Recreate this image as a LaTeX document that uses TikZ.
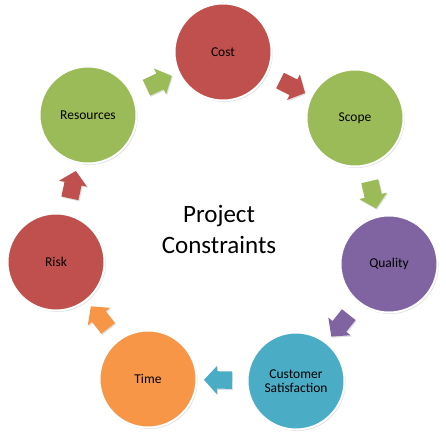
\documentclass[tikz,border=0pt]{standalone}
\usepackage{fontspec}
\setmainfont{Carlito}
\usetikzlibrary{shapes.arrows,shadows}
\definecolor{cred}{HTML}{C0504D}
\definecolor{cgreen}{HTML}{9BBB59}
\definecolor{cpurple}{HTML}{8064A2}
\definecolor{cteal}{HTML}{4BACC6}
\definecolor{corange}{HTML}{F79646}
\tikzset{
  ball/.style={circle, minimum size=97pt, inner sep=0pt, draw=white, line width=2pt,
    fill=#1, align=center, font=\fontsize{13.5}{14}\selectfont,
    drop shadow={shadow xshift=1.2pt, shadow yshift=-1.5pt, opacity=0.25}},
  blockarr/.style={single arrow, sloped, allow upside down, fill=#1, draw=none, inner xsep=0pt, inner ysep=8.5pt,
    single arrow head extend=5.5pt, single arrow tip angle=95, minimum height=28pt,
    drop shadow={shadow xshift=1pt, shadow yshift=-1.2pt, opacity=0.25}}
}
\begin{document}
\begin{tikzpicture}[x=1pt,y=-1pt]
\useasboundingbox (0,0) rectangle (446,435);
\node[ball=cred]    (cost) at (223,52)  {Cost};
\node[ball=cgreen]  (scope) at (355,118) {Scope};
\node[ball=cpurple] (qual) at (389,264) {Quality};
\node[ball=cteal]   (cs) at (296,381) {Customer\\Satisfaction};
\node[ball=corange] (time) at (148,379) {Time};
\node[ball=cred]    (risk) at (56,262) {Risk};
\node[ball=cgreen]  (res) at (88,115) {Resources};
\node[align=center, font=\fontsize{25}{31}\selectfont] (title) at (219,229) {Project\\Constraints};
\path (res) -- node[blockarr=cgreen] (a1) {} (cost);
\path (cost) -- node[blockarr=cred] (a2) {} (scope);
\path (scope) -- node[blockarr=cgreen] (a3) {} (qual);
\path (qual) -- node[blockarr=cpurple] (a4) {} (cs);
\path (cs) -- node[blockarr=cteal] (a5) {} (time);
\path (time) -- node[blockarr=corange] (a6) {} (risk);
\path (risk) -- node[blockarr=cred] (a7) {} (res);
\end{tikzpicture}
\end{document}
